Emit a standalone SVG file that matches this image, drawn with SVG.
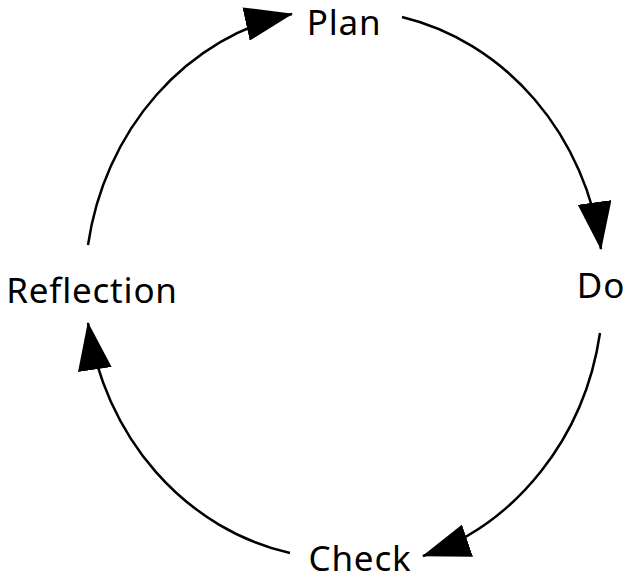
<svg xmlns="http://www.w3.org/2000/svg" width="625" height="578" viewBox="0 0 625 578">
<defs>
<style>
.lbl{font-family:"Noto Sans","DejaVu Sans",sans-serif;font-size:35px;letter-spacing:0.8px;fill:#000;text-anchor:middle}
.arc{fill:none;stroke:#000;stroke-width:2.5}
</style>
<marker id="ah" markerUnits="userSpaceOnUse" markerWidth="48" markerHeight="34" viewBox="0 0 48 34" refX="47" refY="17" orient="auto">
<path d="M0,0 L48,17 L0,34 z" fill="#000"/>
</marker>
</defs>
<rect width="625" height="578" fill="#fff"/>
<g id="connectors">
<path class="arc" d="M402,17 A258 280 0 0 1 601,249" marker-end="url(#ah)"/>
<path class="arc" d="M600,333 A258 280 0 0 1 423,556" marker-end="url(#ah)"/>
<path class="arc" d="M290,553 A258 280 0 0 1 88,323" marker-end="url(#ah)"/>
<path class="arc" d="M88,245 A258 280 0 0 1 292,14" marker-end="url(#ah)"/>
</g>
<g id="plan"><text class="lbl" x="344" y="35">Plan</text></g>
<g id="do"><text class="lbl" x="601" y="298">Do</text></g>
<g id="check"><text class="lbl" x="360" y="571">Check</text></g>
<g id="reflection"><text class="lbl" x="92" y="303">Reflection</text></g>
</svg>
